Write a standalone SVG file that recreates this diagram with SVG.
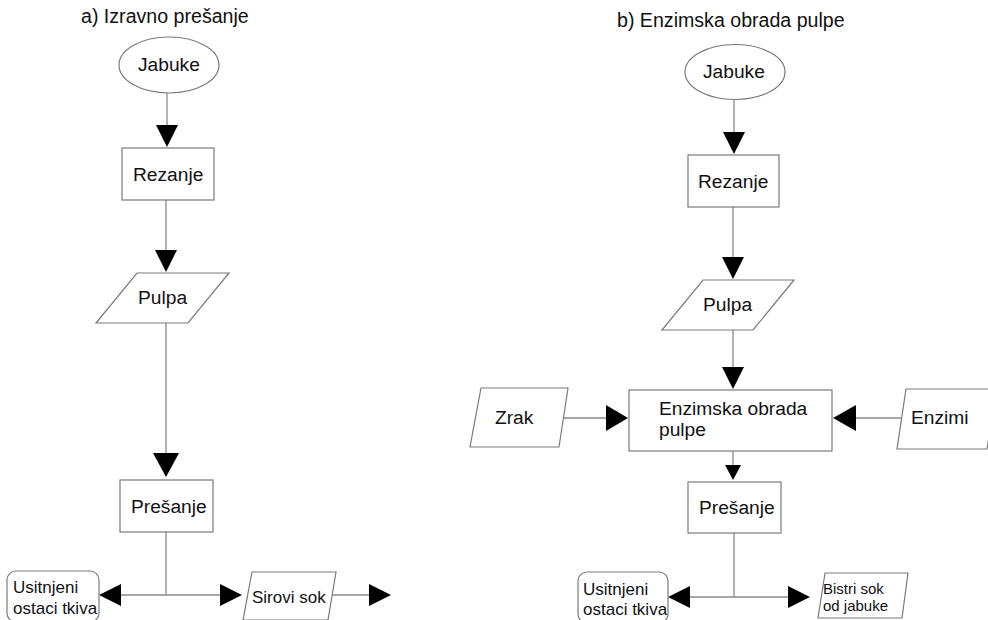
<svg xmlns="http://www.w3.org/2000/svg" width="988" height="620" viewBox="0 0 988 620">
<style>
  text { font-family: "Liberation Sans", Arial, sans-serif; fill: #111; }
  .t { font-size: 19.6px; }
  .n { font-size: 19.2px; }
  .s { font-size: 17px; }
  .xs { font-size: 15px; }
  .shape { fill: #fff; stroke: #7a7a7a; stroke-width: 1.2; }
  .ln { stroke: #8a8a8a; stroke-width: 1.3; fill: none; }
  .ah { fill: #000; stroke: none; }
</style>
<rect width="988" height="620" fill="#fff"/>

<text class="t" x="81" y="23">a) Izravno prešanje</text>
<text class="t" x="617" y="27">b) Enzimska obrada pulpe</text>

<g id="connectors">
  <line class="ln" x1="167" y1="93" x2="167" y2="126"/>
  <polygon class="ah" points="156,125 178,125 167,147"/>
  <line class="ln" x1="166" y1="200" x2="166" y2="251"/>
  <polygon class="ah" points="155,250 177,250 166,272"/>
  <line class="ln" x1="166" y1="323" x2="166" y2="454"/>
  <polygon class="ah" points="153,453 179,453 166,477"/>
  <line class="ln" x1="166" y1="532" x2="166" y2="595"/>
  <line class="ln" x1="120" y1="595" x2="221" y2="595"/>
  <polygon class="ah" points="121,584 121,606 99,595"/>
  <polygon class="ah" points="220,584 220,606 242,595"/>
  <line class="ln" x1="332" y1="595" x2="370" y2="595"/>
  <polygon class="ah" points="369,584 369,606 391,595"/>

  <line class="ln" x1="734" y1="99" x2="734" y2="133"/>
  <polygon class="ah" points="723,132 745,132 734,154"/>
  <line class="ln" x1="733" y1="207" x2="733" y2="258"/>
  <polygon class="ah" points="722,257 744,257 733,279"/>
  <line class="ln" x1="733" y1="330" x2="733" y2="368"/>
  <polygon class="ah" points="722,367 744,367 733,389"/>
  <line class="ln" x1="564" y1="418" x2="607" y2="418"/>
  <polygon class="ah" points="606,405 606,431 628,418"/>
  <line class="ln" x1="855" y1="418" x2="901" y2="418"/>
  <polygon class="ah" points="856,405 856,431 833,418"/>
  <line class="ln" x1="733" y1="451" x2="733" y2="466"/>
  <polygon class="ah" points="725,465 741,465 733,480"/>
  <line class="ln" x1="734" y1="533" x2="734" y2="597"/>
  <line class="ln" x1="689" y1="597" x2="789" y2="597"/>
  <polygon class="ah" points="690,586 690,608 668,597"/>
  <polygon class="ah" points="788,586 788,608 810,597"/>
</g>

<g id="a-jabuke">
  <ellipse class="shape" cx="169" cy="65" rx="50" ry="28"/>
  <text class="n" x="138" y="71">Jabuke</text>
</g>
<g id="a-rezanje">
  <rect class="shape" x="122" y="148" width="92" height="52"/>
  <text class="n" x="133" y="181">Rezanje</text>
</g>
<g id="a-pulpa">
  <polygon class="shape" points="137,273 229,273 188,323 96,323"/>
  <text class="n" x="138" y="304">Pulpa</text>
</g>
<g id="a-presanje">
  <rect class="shape" x="120" y="480" width="93" height="52"/>
  <text class="n" x="131" y="513">Prešanje</text>
</g>
<g id="a-usitnjeni">
  <rect class="shape" x="7" y="571" width="92" height="51" rx="9"/>
  <text class="s" x="13" y="593">Usitnjeni</text>
  <text class="s" x="13" y="614">ostaci tkiva</text>
</g>
<g id="a-sirovi">
  <polygon class="shape" points="252,572 336,572 328,620 243,620"/>
  <text class="s" x="252" y="603">Sirovi sok</text>
</g>

<g id="b-jabuke">
  <ellipse class="shape" cx="735" cy="72" rx="50" ry="27.5"/>
  <text class="n" x="703" y="78">Jabuke</text>
</g>
<g id="b-rezanje">
  <rect class="shape" x="688" y="155" width="91" height="52"/>
  <text class="n" x="698" y="188">Rezanje</text>
</g>
<g id="b-pulpa">
  <polygon class="shape" points="703,280 794,280 753,330 662,330"/>
  <text class="n" x="703" y="311">Pulpa</text>
</g>
<g id="b-enzimska">
  <rect class="shape" x="629" y="390" width="203" height="61"/>
  <text class="n" x="659" y="415">Enzimska obrada</text>
  <text class="n" x="659" y="436">pulpe</text>
</g>
<g id="b-zrak">
  <polygon class="shape" points="481,388 568,388 559,447 470,447"/>
  <text class="n" x="495" y="424">Zrak</text>
</g>
<g id="b-enzimi">
  <polygon class="shape" points="906,389 997,389 987,449 897,449"/>
  <text class="n" x="911" y="424">Enzimi</text>
</g>
<g id="b-presanje">
  <rect class="shape" x="688" y="482" width="93" height="51"/>
  <text class="n" x="699" y="514">Prešanje</text>
</g>
<g id="b-usitnjeni">
  <rect class="shape" x="578" y="572" width="90" height="51" rx="9"/>
  <text class="s" x="583" y="595">Usitnjeni</text>
  <text class="s" x="583" y="615">ostaci tkiva</text>
</g>
<g id="b-bistri">
  <polygon class="shape" points="825,573 908,573 902,618 818,618"/>
  <text class="xs" x="823" y="594">Bistri sok</text>
  <text class="xs" x="823" y="611">od jabuke</text>
</g>
</svg>
